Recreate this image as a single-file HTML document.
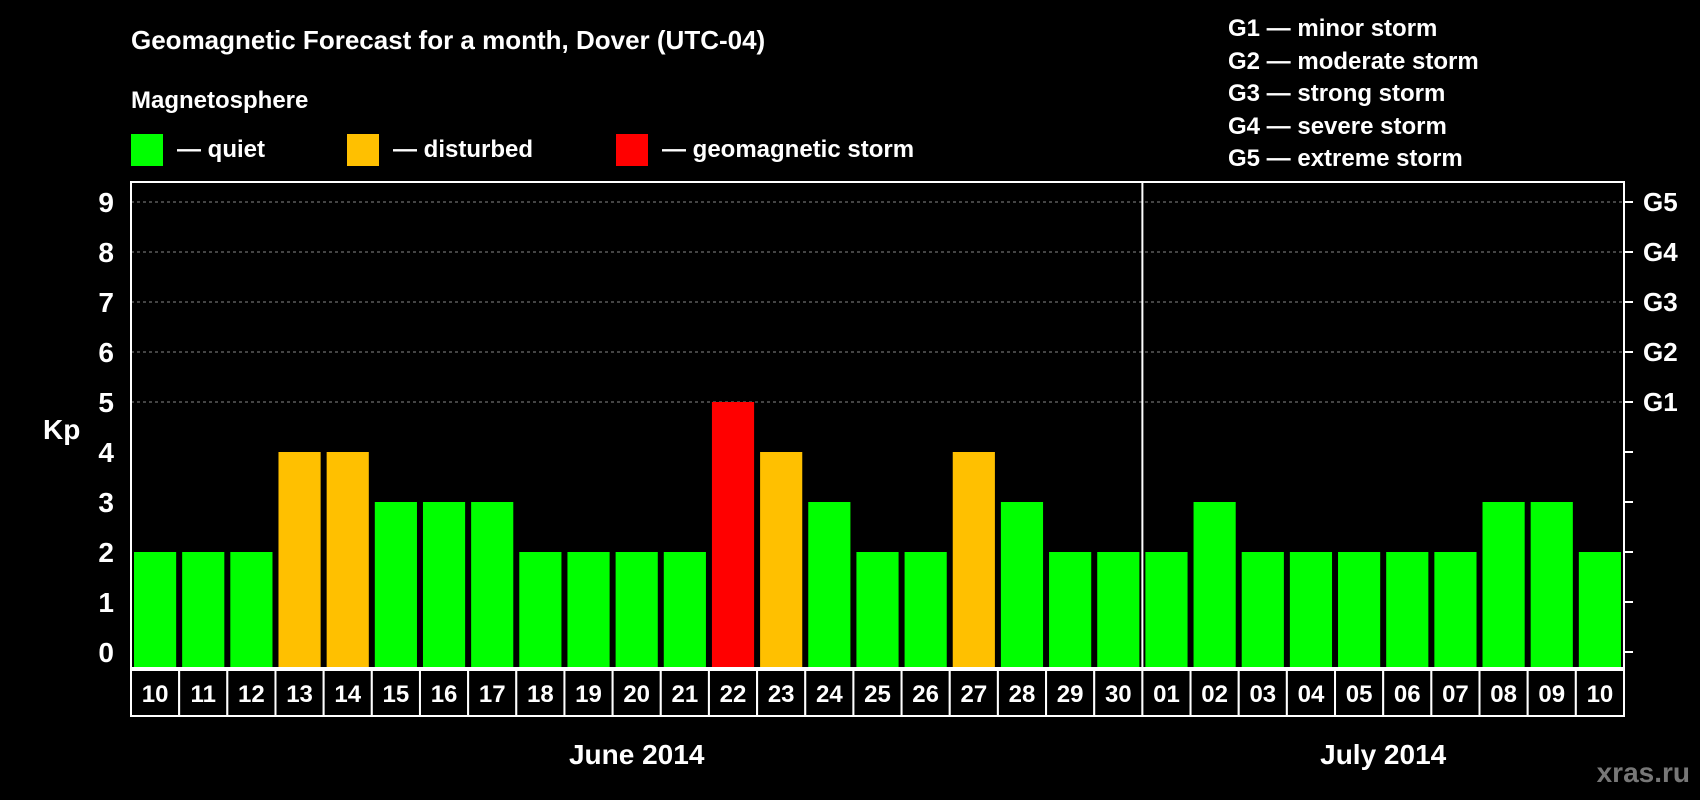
<!DOCTYPE html>
<html><head><meta charset="utf-8"><style>
html,body{margin:0;padding:0;background:#000;width:1700px;height:800px;overflow:hidden}
svg{display:block;font-family:"Liberation Sans",Arial,sans-serif;font-weight:bold}
</style></head><body>
<svg id="c" width="1700" height="800" xmlns="http://www.w3.org/2000/svg">
<text x="131" y="49" fill="#fff" font-size="26">Geomagnetic Forecast for a month, Dover (UTC-04)</text>
<text x="131" y="108" fill="#fff" font-size="24">Magnetosphere</text>
<rect x="131" y="134" width="32" height="32" fill="#00ff00"/>
<text x="177" y="157" fill="#fff" font-size="24">— quiet</text>
<rect x="347" y="134" width="32" height="32" fill="#ffc000"/>
<text x="393" y="157" fill="#fff" font-size="24">— disturbed</text>
<rect x="616" y="134" width="32" height="32" fill="#ff0000"/>
<text x="662" y="157" fill="#fff" font-size="24">— geomagnetic storm</text>
<g fill="#fff" font-size="24">
<text x="1228" y="36">G1 — minor storm</text>
<text x="1228" y="69">G2 — moderate storm</text>
<text x="1228" y="101">G3 — strong storm</text>
<text x="1228" y="134">G4 — severe storm</text>
<text x="1228" y="166">G5 — extreme storm</text>
</g>
<text x="43" y="439" fill="#fff" font-size="28">Kp</text>
<text x="1690" y="782" fill="#777" font-size="28" text-anchor="end">xras.ru</text>
</svg>
<script>
const days = ["10","11","12","13","14","15","16","17","18","19","20","21","22","23","24","25","26","27","28","29","30","01","02","03","04","05","06","07","08","09","10"];
const kp = [2,2,2,4,4,3,3,3,2,2,2,2,5,4,3,2,2,4,3,2,2,2,3,2,2,2,2,2,3,3,2];
const yTicks = [0,1,2,3,4,5,6,7,8,9];
const gLabels = ["G1","G2","G3","G4","G5"];
const months = [{name:"June 2014",from:0,to:21},{name:"July 2014",from:21,to:31}];
const NS="http://www.w3.org/2000/svg", svg=document.getElementById('c');
const L=131,R=1624,T=182,B=668;
const slot=(R-L)/days.length;
const y=v=>652-v*50;
const x=i=>L+i*slot;
function mk(t,a){const e=document.createElementNS(NS,t);for(const k in a)e.setAttribute(k,a[k]);svg.appendChild(e);return e;}
// grid
gLabels.forEach((g,i)=>{const v=5+i;
 const l=mk('line',{x1:L,x2:R,y1:y(v),y2:y(v),stroke:'#888','stroke-dasharray':'3,3'});
 
 
 const t=mk('text',{x:1643,y:y(v)+9,fill:'#fff','font-size':26});t.textContent=g;
 
 
});
// bars
kp.forEach((v,i)=>{
 const col=v>=5?'#ff0000':(v>=4?'#ffc000':'#00ff00');
 const r=mk('rect',{x:x(i)+3,y:y(v),width:slot-6,height:B-y(v),fill:col});
 
 
});
// frame
const f=mk('rect',{x:L,y:T,width:R-L,height:B-T,fill:'none',stroke:'#fff','stroke-width':2});


const sep=mk('line',{x1:x(21),x2:x(21),y1:T,y2:B,stroke:'#fff','stroke-width':2});


// y ticks
yTicks.forEach(v=>{
 const t=mk('text',{x:114,y:y(v)+10,fill:'#fff','font-size':28,'text-anchor':'end'});t.textContent=v;
 
 
 const k=mk('line',{x1:R,x2:R+9,y1:y(v),y2:y(v),stroke:'#fff','stroke-width':2});
 
 
});
// date cells
days.forEach((d,i)=>{
 const c=mk('rect',{x:x(i),y:670,width:slot,height:46,fill:'#000',stroke:'#fff','stroke-width':2});
 
 
 const t=mk('text',{x:x(i)+slot/2,y:702,fill:'#fff','font-size':24,'text-anchor':'middle'});t.textContent=d;
 
 
});
months.forEach(m=>{
 const t=mk('text',{x:(x(m.from)+x(m.to))/2,y:764,fill:'#fff','font-size':28,'text-anchor':'middle'});t.textContent=m.name;
 
 
});
</script>
</body></html>
